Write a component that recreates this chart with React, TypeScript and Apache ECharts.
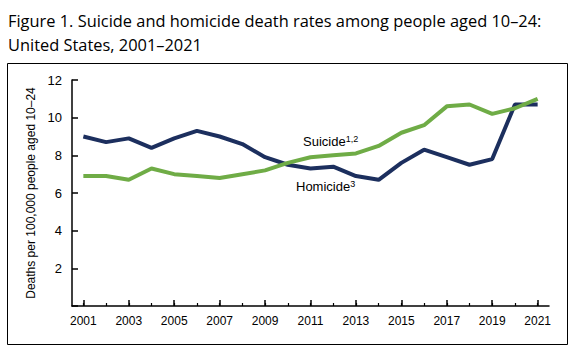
import React, { useEffect, useRef } from "react";
import * as echarts from "echarts";

const years = [
  "2001", "2002", "2003", "2004", "2005", "2006", "2007", "2008", "2009", "2010",
  "2011", "2012", "2013", "2014", "2015", "2016", "2017", "2018", "2019", "2020", "2021",
];
const homicide = [9.0, 8.7, 8.9, 8.4, 8.9, 9.3, 9.0, 8.6, 7.9, 7.5, 7.3, 7.4, 6.9, 6.7, 7.6, 8.3, 7.9, 7.5, 7.8, 10.7, 10.7];
const suicide = [6.9, 6.9, 6.7, 7.3, 7.0, 6.9, 6.8, 7.0, 7.2, 7.6, 7.9, 8.0, 8.1, 8.5, 9.2, 9.6, 10.6, 10.7, 10.2, 10.5, 11.0];
const titleText = "Figure 1. Suicide and homicide death rates among people aged 10–24:\nUnited States, 2001–2021";
const yAxisName = "Deaths per 100,000 people aged 10–24";

const NAVY = "#1c2f5e";
const GREEN = "#6fac46";
const FONT = "'Liberation Sans', Arial, sans-serif";

export default function App() {
  const ref = useRef<HTMLDivElement>(null);
  useEffect(() => {
    if (!ref.current) return;
    const chart = echarts.init(ref.current, null, { renderer: "svg" });
    chart.setOption({
      animation: false,
      backgroundColor: "#ffffff",
      title: {
        text: titleText,
        left: 3,
        top: 3,
        textStyle: {
          fontFamily: "'Open Sans', sans-serif",
          fontSize: 16.4,
          fontWeight: "normal",
          color: "#000",
          lineHeight: 24,
        },
      },
      grid: { left: 72, right: 26, top: 80, bottom: 45, containLabel: false },
      xAxis: [
        {
          type: "category",
          data: years,
          boundaryGap: true,
          axisLine: { show: true, lineStyle: { color: "#000", width: 1.5 } },
          axisTick: { show: true, inside: true, length: 6, interval: 1, alignWithLabel: true, lineStyle: { color: "#000", width: 1.5 } },
          axisLabel: { interval: 1, margin: 9, fontSize: 12, color: "#000", fontFamily: FONT },
          splitLine: { show: false },
        },
        {
          type: "category",
          data: years,
          position: "bottom",
          boundaryGap: true,
          axisLine: { show: false },
          axisTick: { show: true, inside: true, length: 3, interval: 0, alignWithLabel: true, lineStyle: { color: "#000", width: 1.2 } },
          axisLabel: { show: false },
          splitLine: { show: false },
        },
      ],
      yAxis: {
        type: "value",
        min: 0,
        max: 12,
        interval: 2,
        name: yAxisName,
        nameLocation: "middle",
        nameGap: 34,
        nameTextStyle: { fontSize: 12, color: "#000", fontFamily: FONT },
        axisLine: { show: true, lineStyle: { color: "#000", width: 1.5 } },
        axisTick: { show: true, inside: true, length: 6, lineStyle: { color: "#000", width: 1.5 } },
        axisLabel: {
          margin: 10,
          fontSize: 13,
          color: "#000",
          fontFamily: FONT,
          formatter: (v: number) => (v === 0 ? "" : String(v)),
        },
        splitLine: { show: false },
      },
      series: [
        {
          name: "Homicide",
          type: "line",
          data: homicide,
          symbol: "none",
          lineStyle: { color: NAVY, width: 4 },
          itemStyle: { color: NAVY },
          z: 2,
        },
        {
          name: "Suicide",
          type: "line",
          data: suicide,
          symbol: "none",
          lineStyle: { color: GREEN, width: 4 },
          itemStyle: { color: GREEN },
          z: 3,
        },
      ],
      graphic: [
        {
          type: "rect",
          shape: { x: 7.5, y: 63.5, width: 560, height: 281 },
          style: { fill: "none", stroke: "#000", lineWidth: 1 },
          silent: true,
        },
        {
          type: "text",
          left: 303,
          top: 134,
          style: {
            text: "{a|Suicide}{s|1,2}",
            rich: {
              a: { fontSize: 13, fontFamily: FONT, fill: "#000" },
              s: { fontSize: 9, fontFamily: FONT, fill: "#000", verticalAlign: "top", padding: [0, 0, 6, 0] },
            },
          },
        },
        {
          type: "text",
          left: 296,
          top: 179,
          style: {
            text: "{a|Homicide}{s|3}",
            rich: {
              a: { fontSize: 13, fontFamily: FONT, fill: "#000" },
              s: { fontSize: 9, fontFamily: FONT, fill: "#000", verticalAlign: "top", padding: [0, 0, 6, 0] },
            },
          },
        },
      ],
    });
    return () => chart.dispose();
  }, []);
  return (
    <div
      ref={ref}
      style={{ position: "fixed", left: 0, top: 0, width: 575, height: 351 }}
    />
  );
}
